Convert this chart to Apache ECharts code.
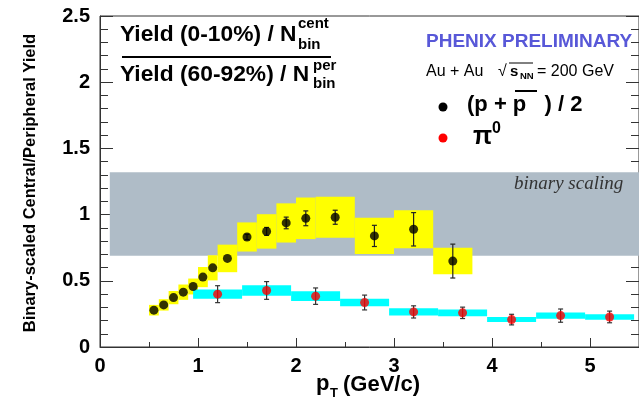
<!DOCTYPE html>
<html><head><meta charset="utf-8">
<script src="https://cdn.jsdelivr.net/npm/echarts@6/dist/echarts.min.js"></script>
<style>html,body{margin:0;padding:0;background:#fff}#c{width:639px;height:401px}</style>
</head><body><div id="c"></div>
<script>
// ---- data ----
const xRange = [0, 5.5];
const yRange = [0, 2.5];
// (p + pbar)/2
const pbarPt    = [0.55,0.65,0.75,0.85,0.95,1.05,1.15,1.3,1.5,1.7,1.9,2.1,2.4,2.8,3.2,3.6];
const pbarVal   = [0.278,0.318,0.373,0.414,0.457,0.528,0.598,0.669,0.831,0.873,0.937,0.972,0.980,0.839,0.889,0.649];
const pbarStat  = [0,0,0,0,0,0,0,0,0.02,0.03,0.044,0.056,0.053,0.08,0.126,0.128];
const pbarSys   = [0.04,0.043,0.05,0.058,0.06,0.076,0.095,0.104,0.11,0.13,0.148,0.157,0.155,0.137,0.144,0.10];
const pbarBinLo = [0.5,0.6,0.7,0.8,0.9,1.0,1.1,1.2,1.4,1.6,1.8,2.0,2.2,2.6,3.0,3.4];
const pbarBinHi = [0.6,0.7,0.8,0.9,1.0,1.1,1.2,1.4,1.6,1.8,2.0,2.2,2.6,3.0,3.4,3.8];
// pi0
const pi0Pt    = [1.2,1.7,2.2,2.7,3.2,3.7,4.2,4.7,5.2];
const pi0Val   = [0.399,0.427,0.384,0.336,0.265,0.258,0.207,0.237,0.227];
const pi0Stat  = [0.064,0.067,0.062,0.056,0.046,0.043,0.04,0.05,0.044];
const pi0Sys   = [0.035,0.04,0.037,0.029,0.027,0.025,0.019,0.024,0.021];
const pi0BinLo = [0.95,1.45,1.95,2.45,2.95,3.45,3.95,4.45,4.95];
const pi0BinHi = [1.45,1.95,2.45,2.95,3.45,3.95,4.45,4.95,5.45];
// binary scaling band
const bandX = [0.1, 5.5];
const bandY = [0.69, 1.32];

// ---- chart ----
const chart = echarts.init(document.getElementById('c'), null, {renderer:'canvas'});
const FONT = 'Liberation Sans, Arial, sans-serif';

function rectRender(color){
  return function(params, api){
    const p1 = api.coord([api.value(0), api.value(3)]);
    const p2 = api.coord([api.value(1), api.value(2)]);
    return {type:'rect', shape:{x:p1[0], y:p1[1], width:p2[0]-p1[0], height:p2[1]-p1[1]}, style:{fill:color}};
  };
}
function errRender(color){
  return function(params, api){
    const x = api.value(0);
    const lo = api.coord([x, api.value(1)]);
    const hi = api.coord([x, api.value(2)]);
    const w = 2.5;
    return {type:'group', children:[
      {type:'line', shape:{x1:lo[0], y1:lo[1], x2:hi[0], y2:hi[1]}, style:{stroke:color, lineWidth:1.2}},
      {type:'line', shape:{x1:lo[0]-w, y1:lo[1], x2:lo[0]+w, y2:lo[1]}, style:{stroke:color, lineWidth:1.2}},
      {type:'line', shape:{x1:hi[0]-w, y1:hi[1], x2:hi[0]+w, y2:hi[1]}, style:{stroke:color, lineWidth:1.2}}
    ]};
  };
}

const pbarBoxes = pbarPt.map((x,i)=>[pbarBinLo[i], pbarBinHi[i], pbarVal[i]-pbarSys[i], pbarVal[i]+pbarSys[i]]);
const pi0Boxes  = pi0Pt.map((x,i)=>[pi0BinLo[i], pi0BinHi[i], pi0Val[i]-pi0Sys[i], pi0Val[i]+pi0Sys[i]]);
const pbarErr = pbarPt.map((x,i)=>[x, pbarVal[i]-pbarStat[i], pbarVal[i]+pbarStat[i]]).filter((d,i)=>pbarStat[i]>0);
const pi0Err  = pi0Pt.map((x,i)=>[x, pi0Val[i]-pi0Stat[i], pi0Val[i]+pi0Stat[i]]);

const axisCol = '#333';
const labelStyle = {fontFamily:FONT, fontWeight:'bold', fontSize:20, color:'#000'};

function T(x, y, text, st, extra){
  return Object.assign({type:'text', x:x, y:y, z:100, style:Object.assign({text:text, fontFamily:FONT, fill:'#000', align:'left', verticalAlign:'middle'}, st)}, extra||{});
}

const option = {
  animation:false,
  grid:{left:100, top:16, right:0, bottom:54, show:true, borderColor:axisCol, borderWidth:1, containLabel:false, outerBoundsMode:'none'},
  xAxis:[{
    type:'value', min:xRange[0], max:xRange[1], interval:1,
    axisLine:{show:true, lineStyle:{color:axisCol}},
    axisTick:{show:true, inside:true, length:9, lineStyle:{color:axisCol}},
    minorTick:{show:true, splitNumber:2, length:5, lineStyle:{color:axisCol}},
    splitLine:{show:false},
    axisLabel:Object.assign({margin:9, showMaxLabel:false, formatter:v=>String(v)}, labelStyle)
  }],
  yAxis:[{
    type:'value', min:yRange[0], max:yRange[1], interval:0.5, position:'left',
    axisLine:{show:true, lineStyle:{color:axisCol}},
    axisTick:{show:true, inside:true, length:13, lineStyle:{color:axisCol}},
    minorTick:{show:true, splitNumber:5, length:8, lineStyle:{color:axisCol}},
    splitLine:{show:false},
    axisLabel:Object.assign({margin:10, formatter:v=>String(v)}, labelStyle)
  },{
    type:'value', min:yRange[0], max:yRange[1], interval:0.5, position:'right',
    axisLine:{show:true, lineStyle:{color:axisCol}},
    axisTick:{show:true, inside:true, length:13, lineStyle:{color:axisCol}},
    minorTick:{show:true, splitNumber:5, length:8, lineStyle:{color:axisCol}},
    splitLine:{show:false},
    axisLabel:{show:false}
  }],
  series:[
    {type:'custom', name:'binary scaling', renderItem:rectRender('#afbcc7'), data:[[bandX[0], bandX[1], bandY[0], bandY[1]]], z:1, clip:true},
    {type:'custom', name:'pbar sys', renderItem:rectRender('#ffff00'), data:pbarBoxes, z:2, clip:true},
    {type:'custom', name:'pi0 sys', renderItem:rectRender('#00ffff'), data:pi0Boxes, z:2, clip:true},
    {type:'custom', name:'pbar stat', renderItem:errRender('#222'), data:pbarErr, z:3},
    {type:'custom', name:'pi0 stat', renderItem:errRender('#333'), data:pi0Err, z:3},
    {type:'scatter', name:'(p+pbar)/2', symbol:'circle', symbolSize:9, itemStyle:{color:'#000'}, data:pbarPt.map((x,i)=>[x,pbarVal[i]]), z:4},
    {type:'scatter', name:'pi0', symbol:'circle', symbolSize:9, itemStyle:{color:'#ff0000'}, data:pi0Pt.map((x,i)=>[x,pi0Val[i]]), z:4}
  ],
  graphic:[
    // y axis title
    T(30, 183, 'Binary-scaled Central/Peripheral Yield', {fontWeight:'bold', fontSize:16.5, align:'center'}, {rotation:Math.PI/2}),
    // x axis title
    T(316, 384, 'p', {fontWeight:'bold', fontSize:22}),
    T(330, 393, 'T', {fontWeight:'bold', fontSize:13}),
    T(343, 385, '(GeV/c)', {fontWeight:'bold', fontSize:22}),
    // fraction
    T(120, 35, 'Yield (0-10%) / N', {fontWeight:'bold', fontSize:22.8}),
    T(298, 24, 'cent', {fontWeight:'bold', fontSize:15}),
    T(298, 45, 'bin', {fontWeight:'bold', fontSize:15}),
    {type:'line', z:100, shape:{x1:122, y1:57, x2:331, y2:57}, style:{stroke:'#000', lineWidth:2}},
    T(120, 75, 'Yield (60-92%) / N', {fontWeight:'bold', fontSize:22.8}),
    T(313, 66, 'per', {fontWeight:'bold', fontSize:15}),
    T(313, 84, 'bin', {fontWeight:'bold', fontSize:15}),
    // PHENIX
    T(426, 42, 'PHENIX PRELIMINARY', {fontWeight:'bold', fontSize:19, fill:'#5858d8'}),
    T(426, 72, 'Au + Au', {fontSize:16}),
    T(498, 72, '√', {fontSize:16}),
    {type:'line', z:100, shape:{x1:509, y1:63, x2:533, y2:63}, style:{stroke:'#000', lineWidth:1}},
    T(510, 72, 's', {fontWeight:'bold', fontSize:15}),
    T(520, 76, 'NN', {fontWeight:'bold', fontSize:9.5}),
    T(537, 72, '= 200 GeV', {fontSize:16}),
    // legend
    {type:'circle', z:100, shape:{cx:443, cy:107, r:4.5}, style:{fill:'#000'}},
    T(467, 105, '(p + p   ) / 2', {fontWeight:'bold', fontSize:22}),
    {type:'line', z:100, shape:{x1:515, y1:91, x2:537, y2:91}, style:{stroke:'#000', lineWidth:2}},
    {type:'circle', z:100, shape:{cx:443, cy:138, r:4.5}, style:{fill:'#ff0000'}},
    T(473, 137, 'π', {fontSize:25, fontWeight:'bold'}),
    T(492, 129, '0', {fontWeight:'bold', fontSize:16}),
    // band label
    T(514, 184, 'binary scaling', {fontFamily:'Liberation Serif, serif', fontStyle:'italic', fontSize:19, fill:'#333'})
  ]
};
chart.setOption(option);
</script>
</body></html>
